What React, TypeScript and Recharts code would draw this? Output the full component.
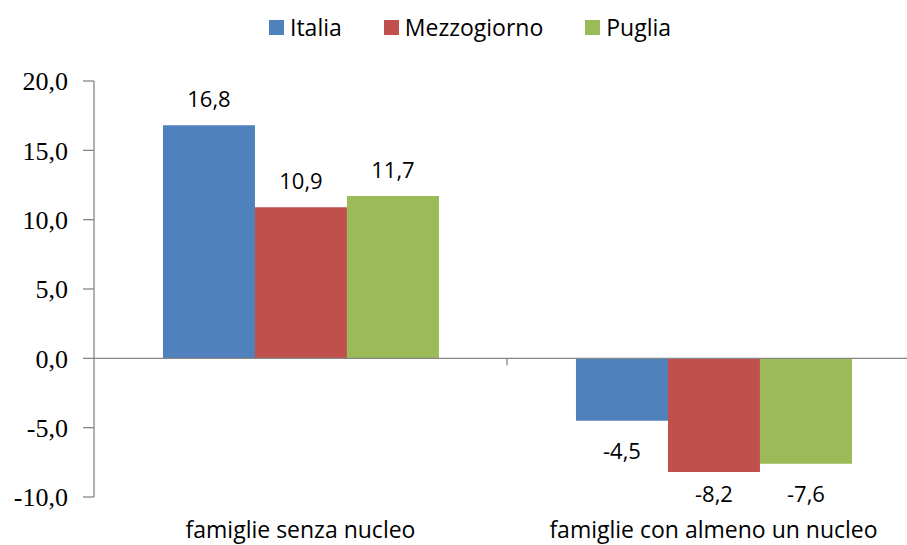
import React from "react";
import { BarChart, Bar, XAxis, YAxis, ReferenceLine, Legend, LabelList } from "recharts";

const categories = ["famiglie senza nucleo", "famiglie con almeno un nucleo"];
const italia = [16.8, -4.5];
const mezzogiorno = [10.9, -8.2];
const puglia = [11.7, -7.6];
const yTicks = [-10, -5, 0, 5, 10, 15, 20];

const seriesNames = ["Italia", "Mezzogiorno", "Puglia"];
const seriesColors = ["#4F81BD", "#C0504D", "#9BBB59"];

const data = categories.map((c, i) => ({
  name: c,
  Italia: italia[i],
  Mezzogiorno: mezzogiorno[i],
  Puglia: puglia[i],
}));

const SANS = "'Open Sans', sans-serif";
const SERIF = "'Liberation Serif', serif";
const AXIS = "#868686";

const fmt = (v: number) => v.toFixed(1).replace(".", ",");

const BarLabel = (props: any) => {
  const { x, y, width, height, value } = props;
  const top = Math.min(y, y + height);
  const bottom = Math.max(y, y + height);
  const cx = x + width / 2;
  const cy = value >= 0 ? top - 26 : Math.min(bottom + 30, 494);
  return (
    <text x={cx} y={cy} dy="0.36em" textAnchor="middle" fontFamily={SANS} fontSize={22} fill="#000">
      {fmt(value)}
    </text>
  );
};

const CategoryTick = (props: any) => {
  const { x, y, payload } = props;
  return (
    <text x={x} y={y} dy={41} textAnchor="middle" fontFamily={SANS} fontSize={23} fill="#000">
      {payload.value}
    </text>
  );
};

const ZeroLine = (props: any) => {
  const { x1, y1, x2, y2 } = props;
  const mid = (x1 + x2) / 2;
  return (
    <g>
      <line x1={x1} y1={y1} x2={x2} y2={y2} stroke={AXIS} strokeWidth={1.3} />
      <line x1={mid} y1={y1} x2={mid} y2={y1 + 7} stroke={AXIS} strokeWidth={1.3} />
    </g>
  );
};

const LegendContent = (props: any) => {
  const { payload } = props;
  return (
    <div style={{ display: "flex", alignItems: "center", paddingLeft: 269, paddingTop: 20, height: 15 }}>
      {(payload || []).map((p: any) => (
        <div key={p.value} style={{ display: "flex", alignItems: "center", marginRight: 42 }}>
          <div style={{ width: 15, height: 15, background: p.color, marginRight: 6 }} />
          <span style={{ fontFamily: SANS, fontSize: 23, color: "#000", lineHeight: "15px" }}>{p.value}</span>
        </div>
      ))}
    </div>
  );
};

export default function App() {
  return (
    <div style={{ position: "absolute", top: 0, left: 0, width: 907, height: 545, overflow: "hidden", background: "#fff" }}>
      <BarChart
        width={925}
        height={545}
        data={data}
        margin={{ top: 81, right: 5, left: 0, bottom: 0 }}
        barCategoryGap="16.7%"
        barGap={0}
      >
        <XAxis
          dataKey="name"
          axisLine={false}
          tickLine={false}
          tickSize={0}
          tickMargin={0}
          height={48}
          tick={<CategoryTick />}
          interval={0}
        />
        <YAxis
          domain={[-10, 20]}
          ticks={yTicks}
          width={94}
          tickFormatter={fmt}
          axisLine={{ stroke: AXIS, strokeWidth: 1.3 }}
          tickLine={{ stroke: AXIS, strokeWidth: 1.3 }}
          tickSize={11}
          tickMargin={15}
          tick={{ fontFamily: SERIF, fontSize: 26, fill: "#000" }}
          allowDataOverflow
        />
        <Legend
          verticalAlign="middle"
          align="center"
          layout="horizontal"
          wrapperStyle={{ top: 0, left: 0, width: 925 }}
          content={<LegendContent />}
        />
        {seriesNames.map((s, i) => (
          <Bar key={s} dataKey={s} fill={seriesColors[i]} isAnimationActive={false}>
            <LabelList dataKey={s} content={<BarLabel />} />
          </Bar>
        ))}
        <ReferenceLine y={0} shape={<ZeroLine />} />
      </BarChart>
    </div>
  );
}
